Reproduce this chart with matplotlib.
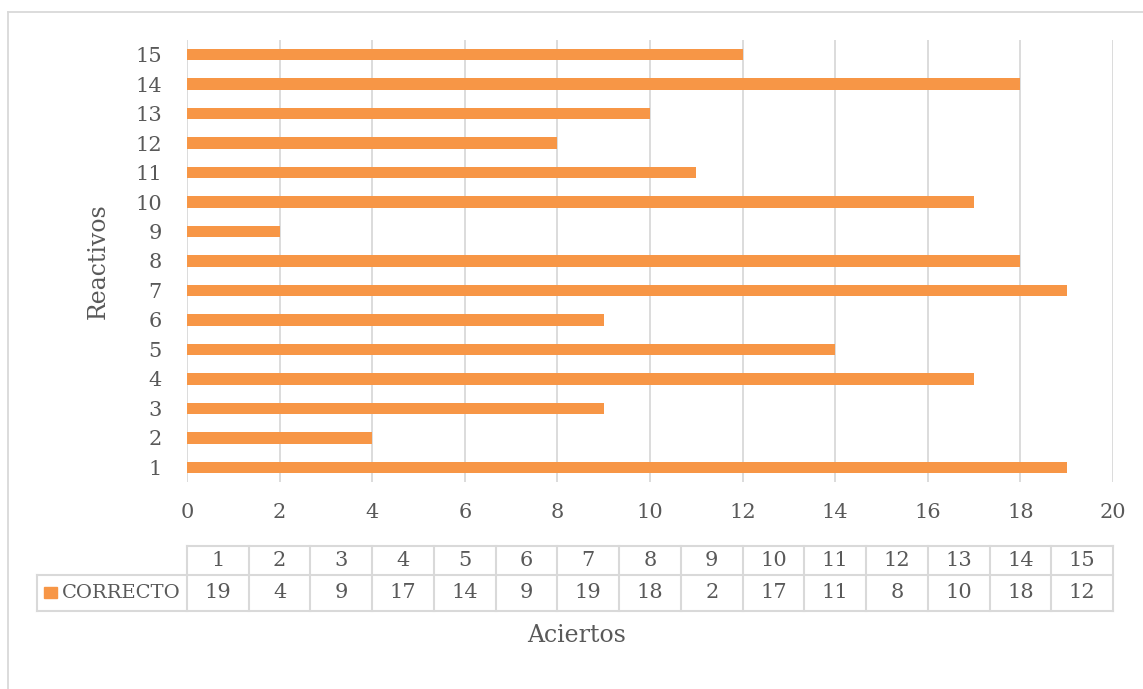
import matplotlib
matplotlib.use("Agg")
import matplotlib.pyplot as plt
from matplotlib.patches import Rectangle
from matplotlib.lines import Line2D

reactivos = [1, 2, 3, 4, 5, 6, 7, 8, 9, 10, 11, 12, 13, 14, 15]
correcto = [19, 4, 9, 17, 14, 9, 19, 18, 2, 17, 11, 8, 10, 18, 12]
x_ticks = [0, 2, 4, 6, 8, 10, 12, 14, 16, 18, 20]
series_name = "CORRECTO"

BAR = "#F79646"
GRID = "#D9D9D9"
TXT = "#595959"
FONT = "DejaVu Serif"
plt.rcParams['font.family'] = [FONT]

W, H = 1143, 689
fig = plt.figure(figsize=(W / 100, H / 100), dpi=100)

def fx(px):
    return px / W

def fy(py):
    return 1 - py / H

# outer chart border
fig.add_artist(Line2D([fx(8), fx(8)], [fy(12), fy(700)], color=GRID, lw=1.3))
fig.add_artist(Line2D([fx(8), fx(1150)], [fy(12), fy(12)], color=GRID, lw=1.3))

L, R, T, B = 187, 1113, 40, 482
ax = fig.add_axes([fx(L), fy(B), fx(R - L), fy(T) - fy(B)])
ax.barh(reactivos, correcto, height=0.39, color=BAR, zorder=3)
ax.set_xlim(0, 20)
ax.set_ylim(0.5, 15.5)
ax.set_xticks(x_ticks)
ax.set_yticks(reactivos)
ax.set_yticklabels([str(r) for r in reactivos])
ax.grid(axis='x', color=GRID, lw=1.3, zorder=0)
for s in ax.spines.values():
    s.set_visible(False)
ax.tick_params(length=0, labelsize=15, colors=TXT)
ax.tick_params(axis='x', pad=15)
ax.tick_params(axis='y', pad=18)
ax.set_ylabel("Reactivos", fontsize=17, color=TXT, labelpad=18)

# data table
tax = fig.add_axes([fx(37), fy(611), fx(R - 37), fy(546) - fy(611)])
n = len(reactivos)
cw = (R - L) / n
left_units = -(L - 37) / cw
tax.set_xlim(left_units, n)
tax.set_ylim(0, 2)
tax.axis('off')
lc = dict(color=GRID, lw=1.5, clip_on=False)
tax.plot([0, n], [2, 2], **lc)
tax.plot([left_units, n], [1.12, 1.12], **lc)
tax.plot([left_units, n], [0, 0], **lc)
tax.plot([left_units, left_units], [0, 1.12], **lc)
for i in range(n + 1):
    tax.plot([i, i], [0, 2], **lc)
for i, (r, v) in enumerate(zip(reactivos, correcto)):
    tax.text(i + 0.5, 1.56, str(r), ha='center', va='center', fontsize=15, color=TXT)
    tax.text(i + 0.5, 0.56, str(v), ha='center', va='center', fontsize=15, color=TXT)
tax.add_patch(Rectangle((left_units + 0.12, 0.4), 0.2, 0.34, color=BAR, clip_on=False))
tax.text(left_units + 0.4, 0.56, series_name, ha='left', va='center', fontsize=14, color=TXT)

fig.text(fx(577), fy(636), "Aciertos", ha='center', va='center', fontsize=17, color=TXT)

fig.savefig("out.png", dpi=100)
